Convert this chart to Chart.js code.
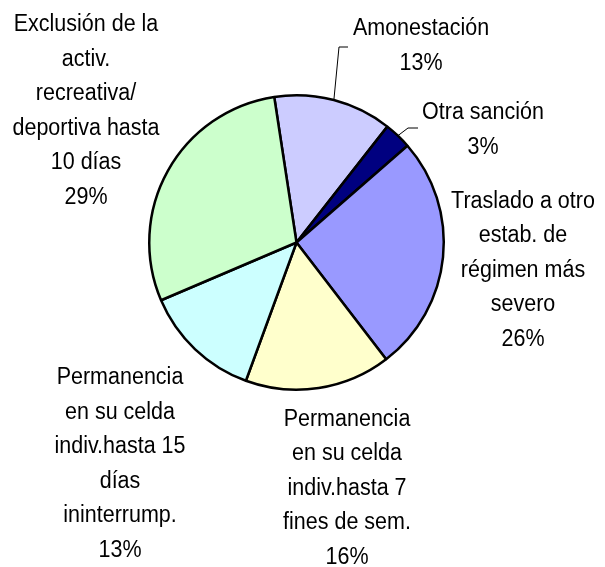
<!DOCTYPE html>
<html>
<head>
<meta charset="utf-8">
<script src="https://cdn.jsdelivr.net/npm/chart.js@4"></script>
<style>
  html, body { margin: 0; padding: 0; background: #fff; }
  #wrap { width: 605px; height: 567px; }
</style>
</head>
<body>
<div id="wrap"><canvas id="pie_chart" width="605" height="567"></canvas></div>
<script>
const labels = [
    ['Amonestación'],
    ['Otra sanción'],
    ['Traslado a otro', 'estab. de', 'régimen más', 'severo'],
    ['Permanencia', 'en su celda', 'indiv.hasta 7', 'fines de sem.'],
    ['Permanencia', 'en su celda', 'indiv.hasta 15', 'días', 'ininterrump.'],
    ['Exclusión de la', 'activ.', 'recreativa/', 'deportiva hasta', '10 días']
];
const values = [13, 3, 26, 16, 13, 29];
const percents = ['13%', '3%', '26%', '16%', '13%', '29%'];

const colors = [
    '#CCCCFF', // Amonestación
    '#000080', // Otra sanción
    '#9999FF', // Traslado
    '#FFFFCC', // Permanencia 7 fines
    '#CCFFFF', // Permanencia 15 días
    '#CCFFCC'  // Exclusión
];

// where each label block is centred (text only), and leader line bends
const labelCenters = [
    { x: 421, y: 46 },
    { x: 483, y: 130 },
    { x: 523, y: 270 },
    { x: 347, y: 488 },
    { x: 120, y: 464 },
    { x: 86, y: 111 }
];
const leaders = [
    [{ x: 339, y: 47 }, { x: 348, y: 47 }],
    [{ x: 408, y: 128 }, { x: 418, y: 128 }],
    null, null, null, null
];

const lineHeight = 34.5;
const stretchY = 1.13; // reference glyphs are a bit taller than Liberation Sans

const labelPlugin = {
    id: 'outsideLabels',
    afterDraw(chart) {
        const ctx = chart.ctx;
        const arcs = chart.getDatasetMeta(0).data;
        ctx.save();
        ctx.font = '21.5px "Liberation Sans", Arial, sans-serif';
        ctx.fillStyle = '#000';
        ctx.textAlign = 'center';
        ctx.textBaseline = 'middle';

        arcs.forEach((arc, i) => {
            const lines = labels[i].concat([percents[i]]);
            const c = labelCenters[i];
            const top = c.y - (lines.length - 1) * lineHeight / 2;
            lines.forEach((txt, k) => {
                ctx.save();
                ctx.translate(c.x, top + k * lineHeight);
                ctx.scale(1, stretchY);
                ctx.fillText(txt, 0, 0);
                ctx.restore();
            });

            if (leaders[i]) {
                const p = arc.getProps(['x', 'y', 'startAngle', 'endAngle', 'outerRadius'], true);
                const mid = (p.startAngle + p.endAngle) / 2;
                ctx.beginPath();
                ctx.moveTo(p.x + Math.cos(mid) * p.outerRadius, p.y + Math.sin(mid) * p.outerRadius);
                leaders[i].forEach(pt => ctx.lineTo(pt.x, pt.y));
                ctx.strokeStyle = '#000';
                ctx.lineWidth = 1;
                ctx.stroke();
            }
        });
        ctx.restore();
    }
};

const ctx = document.getElementById('pie_chart').getContext('2d');
new Chart(ctx, {
    type: 'pie',
    data: {
        labels: labels.map(l => l.join(' ')),
        datasets: [{
            data: values,
            backgroundColor: colors,
            borderColor: '#000',
            borderWidth: 2.5
        }]
    },
    options: {
        responsive: false,
        animation: false,
        rotation: -8.7,
        layout: {
            padding: { left: 148, top: 93, right: 160, bottom: 175 }
        },
        plugins: {
            legend: { display: false },
            tooltip: { enabled: false }
        }
    },
    plugins: [labelPlugin]
});
</script>
</body>
</html>
